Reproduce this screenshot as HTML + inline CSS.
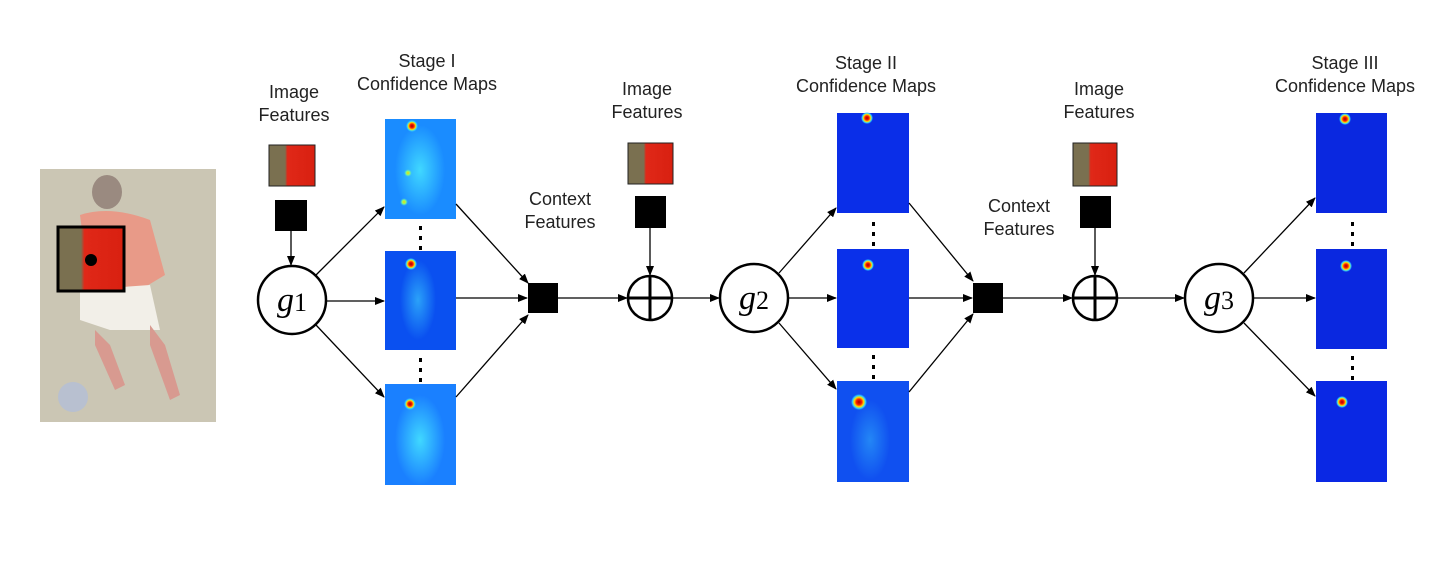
<!DOCTYPE html>
<html><head><style>
html,body{margin:0;padding:0;background:#fff;}
svg{display:block;}
text{font-family:"Liberation Sans",sans-serif;font-size:18px;fill:#222;text-anchor:middle;}
</style></head><body>
<svg width="1437" height="575" viewBox="0 0 1437 575" xmlns="http://www.w3.org/2000/svg">
<defs>
<marker id="a" markerWidth="10" markerHeight="8" refX="9" refY="4" orient="auto" markerUnits="userSpaceOnUse"><path d="M0,0L10,4L0,8z" fill="#000"/></marker>
<radialGradient id="hot"><stop offset="0" stop-color="#a00000"/><stop offset="0.35" stop-color="#ff2000"/><stop offset="0.6" stop-color="#ffe000"/><stop offset="0.8" stop-color="#30d0ff"/><stop offset="1" stop-color="#30d0ff" stop-opacity="0"/></radialGradient>
<radialGradient id="warm"><stop offset="0" stop-color="#ffd000"/><stop offset="0.5" stop-color="#80ff80"/><stop offset="1" stop-color="#40c0ff" stop-opacity="0"/></radialGradient>
<radialGradient id="cyan"><stop offset="0" stop-color="#40d8ff"/><stop offset="1" stop-color="#40d8ff" stop-opacity="0"/></radialGradient>
<linearGradient id="shirt" x1="0" x2="1"><stop offset="0" stop-color="#7a7050"/><stop offset="0.35" stop-color="#7a7050"/><stop offset="0.4" stop-color="#e02818"/><stop offset="1" stop-color="#d82010"/></linearGradient>
</defs>

<!-- photo -->
<rect x="40" y="169" width="176" height="253" fill="#cbc6b4"/>
<ellipse cx="107" cy="192" rx="15" ry="17" fill="#9a8a80"/>
<path d="M80 215 Q110 205 150 220 L165 275 L140 290 L90 290 Z" fill="#e89a88"/>
<path d="M80 290 L150 285 L160 330 L110 330 L80 320Z" fill="#f2efe8"/>
<path d="M95 330 L110 345 L125 385 L115 390 L95 345Z" fill="#d89a90"/>
<path d="M150 325 L165 345 L180 395 L170 400 L150 345Z" fill="#d89a90"/>
<circle cx="73" cy="397" r="15" fill="#b8c0d0"/>
<rect x="58" y="227" width="66" height="64" fill="url(#shirt)"/>
<rect x="58" y="227" width="66" height="64" fill="none" stroke="#000" stroke-width="3"/>
<circle cx="91" cy="260" r="6" fill="#000"/>

<!-- text -->
<text x="294" y="98">Image</text><text x="294" y="121">Features</text>
<text x="427" y="67">Stage I</text><text x="427" y="90">Confidence Maps</text>
<text x="560" y="205">Context</text><text x="560" y="228">Features</text>
<text x="647" y="95">Image</text><text x="647" y="118">Features</text>
<text x="866" y="69">Stage II</text><text x="866" y="92">Confidence Maps</text>
<text x="1019" y="212">Context</text><text x="1019" y="235">Features</text>
<text x="1099" y="95">Image</text><text x="1099" y="118">Features</text>
<text x="1345" y="69">Stage III</text><text x="1345" y="92">Confidence Maps</text>

<!-- thumbs -->
<g><rect x="269" y="145" width="46" height="41" fill="url(#shirt)" stroke="#222"/></g>
<g><rect x="628" y="143" width="45" height="41" fill="url(#shirt)" stroke="#222"/></g>
<g><rect x="1073" y="143" width="44" height="43" fill="url(#shirt)" stroke="#222"/></g>
<rect x="275" y="200" width="32" height="31" fill="#000"/>
<rect x="635" y="196" width="31" height="32" fill="#000"/>
<rect x="1080" y="196" width="31" height="32" fill="#000"/>
<rect x="528" y="283" width="30" height="30" fill="#000"/>
<rect x="973" y="283" width="30" height="30" fill="#000"/>

<!-- maps col1 -->
<rect x="385" y="119" width="71" height="100" fill="#1a8cff"/>
<ellipse cx="420" cy="170" rx="25" ry="45" fill="url(#cyan)"/>
<circle cx="412" cy="126" r="6" fill="url(#hot)"/><circle cx="408" cy="173" r="4" fill="url(#warm)"/><circle cx="404" cy="202" r="4" fill="url(#warm)"/>
<rect x="385" y="251" width="71" height="99" fill="#0a50f0"/>
<ellipse cx="418" cy="300" rx="18" ry="40" fill="url(#cyan)" opacity="0.6"/>
<circle cx="411" cy="264" r="6" fill="url(#hot)"/>
<rect x="385" y="384" width="71" height="101" fill="#1a80ff"/>
<ellipse cx="420" cy="440" rx="25" ry="45" fill="url(#cyan)"/>
<circle cx="410" cy="404" r="6" fill="url(#hot)"/>

<!-- maps col2 -->
<rect x="837" y="113" width="72" height="100" fill="#0a2ee8"/>
<circle cx="867" cy="118" r="6" fill="url(#hot)"/>
<rect x="837" y="249" width="72" height="99" fill="#0a30ea"/>
<circle cx="868" cy="265" r="6" fill="url(#hot)"/>
<rect x="837" y="381" width="72" height="101" fill="#1050f0"/>
<ellipse cx="870" cy="440" rx="20" ry="40" fill="url(#cyan)" opacity="0.4"/>
<circle cx="859" cy="402" r="8" fill="url(#hot)"/>

<!-- maps col3 -->
<rect x="1316" y="113" width="71" height="100" fill="#0a28e0"/>
<circle cx="1345" cy="119" r="6" fill="url(#hot)"/>
<rect x="1316" y="249" width="71" height="100" fill="#0a28e0"/>
<circle cx="1346" cy="266" r="6" fill="url(#hot)"/>
<rect x="1316" y="381" width="71" height="101" fill="#0a28e4"/>
<circle cx="1342" cy="402" r="6" fill="url(#hot)"/>

<!-- dots -->
<g fill="#000">
<rect x="419" y="226" width="3" height="4"/><rect x="419" y="236" width="3" height="4"/><rect x="419" y="246" width="3" height="4"/>
<rect x="419" y="358" width="3" height="4"/><rect x="419" y="368" width="3" height="4"/><rect x="419" y="378" width="3" height="4"/>
<rect x="872" y="222" width="3" height="4"/><rect x="872" y="232" width="3" height="4"/><rect x="872" y="242" width="3" height="4"/>
<rect x="872" y="355" width="3" height="4"/><rect x="872" y="365" width="3" height="4"/><rect x="872" y="375" width="3" height="4"/>
<rect x="1351" y="222" width="3" height="4"/><rect x="1351" y="232" width="3" height="4"/><rect x="1351" y="242" width="3" height="4"/>
<rect x="1351" y="356" width="3" height="4"/><rect x="1351" y="366" width="3" height="4"/><rect x="1351" y="376" width="3" height="4"/>
</g>

<!-- circles -->
<g fill="#fff" stroke="#000" stroke-width="2.5">
<circle cx="292" cy="300" r="34"/><circle cx="754" cy="298" r="34"/><circle cx="1219" cy="298" r="34"/>
<circle cx="650" cy="298" r="22"/><circle cx="1095" cy="298" r="22"/>
</g>
<g stroke="#000" stroke-width="3">
<line x1="628" y1="298" x2="672" y2="298"/><line x1="650" y1="276" x2="650" y2="320"/>
<line x1="1073" y1="298" x2="1117" y2="298"/><line x1="1095" y1="276" x2="1095" y2="320"/>
</g>
<text x="292" y="311" style="font-family:'Liberation Serif',serif;font-style:italic;font-size:34px;fill:#000">g<tspan font-style="normal" font-size="26">1</tspan></text>
<text x="754" y="309" style="font-family:'Liberation Serif',serif;font-style:italic;font-size:34px;fill:#000">g<tspan font-style="normal" font-size="26">2</tspan></text>
<text x="1219" y="309" style="font-family:'Liberation Serif',serif;font-style:italic;font-size:34px;fill:#000">g<tspan font-style="normal" font-size="26">3</tspan></text>

<!-- arrows -->
<g stroke="#000" stroke-width="1.3" marker-end="url(#a)" fill="none">
<line x1="291" y1="231" x2="291" y2="265"/>
<line x1="650" y1="228" x2="650" y2="275"/>
<line x1="1095" y1="228" x2="1095" y2="275"/>
<line x1="316" y1="275" x2="384" y2="207"/>
<line x1="326" y1="301" x2="384" y2="301"/>
<line x1="316" y1="325" x2="384" y2="397"/>
<line x1="456" y1="204" x2="528" y2="283"/>
<line x1="456" y1="298" x2="527" y2="298"/>
<line x1="456" y1="397" x2="528" y2="315"/>
<line x1="558" y1="298" x2="627" y2="298"/>
<line x1="672" y1="298" x2="719" y2="298"/>
<line x1="779" y1="273" x2="836" y2="208"/>
<line x1="788" y1="298" x2="836" y2="298"/>
<line x1="779" y1="323" x2="836" y2="389"/>
<line x1="909" y1="203" x2="973" y2="281"/>
<line x1="909" y1="298" x2="972" y2="298"/>
<line x1="909" y1="392" x2="973" y2="314"/>
<line x1="1003" y1="298" x2="1072" y2="298"/>
<line x1="1117" y1="298" x2="1184" y2="298"/>
<line x1="1244" y1="273" x2="1315" y2="198"/>
<line x1="1253" y1="298" x2="1315" y2="298"/>
<line x1="1244" y1="323" x2="1315" y2="396"/>
</g>
</svg>
</body></html>
